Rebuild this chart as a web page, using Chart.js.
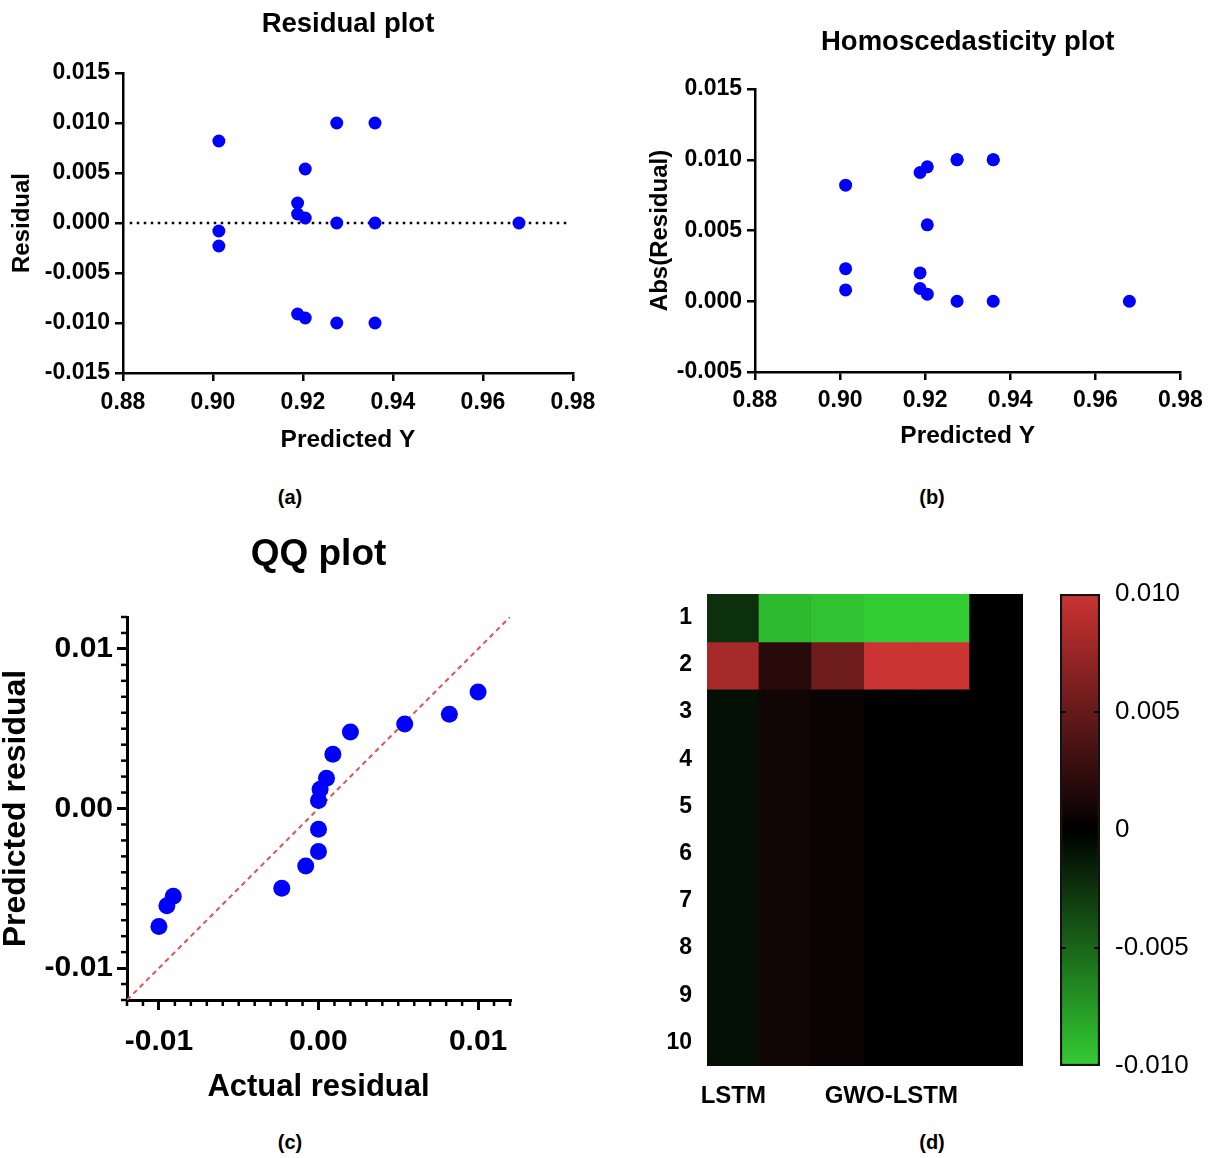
<!DOCTYPE html>
<html><head><meta charset="utf-8">
<script src="https://cdn.jsdelivr.net/npm/chart.js@4.4.1/dist/chart.umd.min.js"></script>
<style>
html,body{margin:0;padding:0;background:#fff;}
body{width:1210px;height:1158px;position:relative;overflow:hidden;font-family:"Liberation Sans",Arial,sans-serif;}
canvas{position:absolute;}
.lbl{position:absolute;font-weight:bold;font-size:20px;color:#000;transform:translate(-50%,-50%);white-space:nowrap;}
</style></head><body>
<canvas id="ca" width="609" height="460" style="left:0px;top:0px"></canvas>
<canvas id="cb" width="590" height="460" style="left:620px;top:0px"></canvas>
<canvas id="cc" width="560" height="600" style="left:0px;top:520px"></canvas>
<canvas id="cd" width="400" height="560" style="left:640px;top:570px"></canvas>
<canvas id="ce" width="170" height="520" style="left:1040px;top:570px"></canvas>
<div class="lbl" style="left:290px;top:497px">(a)</div>
<div class="lbl" style="left:932px;top:497px">(b)</div>
<div class="lbl" style="left:290px;top:1142px">(c)</div>
<div class="lbl" style="left:932px;top:1142px">(d)</div>
<script>
// ---------- data ----------
const predictedY = [0.9013, 0.9013, 0.9013, 0.9188, 0.9188, 0.9188, 0.9205, 0.9205, 0.9205, 0.9275, 0.9275, 0.9275, 0.9360, 0.9360, 0.9360, 0.9680];
const residuals  = [0.0082, -0.0008, -0.0023, 0.0020, 0.0009, -0.0091, 0.0054, 0.0005, -0.0095, 0.0100, 0.0000, -0.0100, 0.0100, 0.0000, -0.0100, 0.0000];
const xTicksAB = [0.88, 0.90, 0.92, 0.94, 0.96, 0.98];
const yTicksA = [-0.015, -0.010, -0.005, 0.000, 0.005, 0.010, 0.015];
const yTicksB = [-0.005, 0.000, 0.005, 0.010, 0.015];
const zeroLineX = [0.8815, 0.9785];

const qqActual    = [-0.0100, -0.0095, -0.0091, -0.0023, -0.0008, 0.0000, 0.0000, 0.0000, 0.0001, 0.0005, 0.0009, 0.0020, 0.0054, 0.0082, 0.0100];
const qqPredicted = [-0.0074, -0.0061, -0.0055, -0.0050, -0.0036, -0.0027, -0.0013, 0.0005, 0.0012, 0.0019, 0.0034, 0.0048, 0.0053, 0.0059, 0.0073];
const qqTicks = [-0.01, 0.00, 0.01];
const qqRange = [-0.012, 0.012];

const heatRowLabels = ['1','2','3','4','5','6','7','8','9','10'];
const heatColLabels = ['LSTM','','','GWO-LSTM','',''];
const heatValues = [
  [-0.0023, -0.0091, -0.0095, -0.0100, -0.0100, 0],
  [ 0.0082,  0.0020,  0.0054,  0.0100,  0.0100, 0],
  [-0.0008,  0.0009,  0.0005,  0, 0, 0],
  [-0.0008,  0.0009,  0.0005,  0, 0, 0],
  [-0.0008,  0.0009,  0.0005,  0, 0, 0],
  [-0.0008,  0.0009,  0.0005,  0, 0, 0],
  [-0.0008,  0.0009,  0.0005,  0, 0, 0],
  [-0.0008,  0.0009,  0.0005,  0, 0, 0],
  [-0.0008,  0.0009,  0.0005,  0, 0, 0],
  [-0.0008,  0.0009,  0.0005,  0, 0, 0]
];
const cbTicks  = [-0.010, -0.005, 0, 0.005, 0.010];
const cbLabels = ['-0.010', '-0.005', '0', '0.005', '0.010'];

// ---------- styling ----------
const FAM = "'Liberation Sans', Arial, Helvetica, sans-serif";
Chart.defaults.color = '#000';
Chart.defaults.font.family = FAM;
Chart.defaults.animation = false;
Chart.defaults.events = [];
Chart.defaults.plugins.legend.display = false;
Chart.defaults.plugins.tooltip.enabled = false;

function colorFor(v) {
  const t = Math.max(-1, Math.min(1, v / 0.01));
  if (t >= 0) return `rgb(${Math.round(204*t)},${Math.round(51*t)},${Math.round(51*t)})`;
  const s = -t;
  return `rgb(${Math.round(51*s)},${Math.round(204*s)},${Math.round(51*s)})`;
}

function axisStyle(tickLen, lw) {
  return {
    border: {display: true, color: '#000', width: lw},
    grid: {display: true, drawOnChartArea: false, drawTicks: true, tickLength: tickLen, color: '#000', lineWidth: lw}
  };
}
// invisible tick marks used only as a spacer between axis and labels
function spacerGrid(len) {
  return {display: true, drawOnChartArea: false, drawTicks: true, tickLength: len, color: 'rgba(0,0,0,0)', lineWidth: 0};
}

function scatterPanel(id, yVals, yTicks, yMin, yMax, yTitle, title, geom, withZero) {
  const pts = predictedY.map((x, i) => ({x, y: yVals[i]}));
  const datasets = [{data: pts, backgroundColor: '#0000ff', borderWidth: 0, pointRadius: 6.5}];
  if (withZero) {
    datasets.push({type: 'line', data: zeroLineX.map(x => ({x, y: 0})), borderColor: '#000', borderWidth: 2.5,
      borderDash: [2.5, 4.5], pointRadius: 0, showLine: true, fill: false});
  }
  new Chart(document.getElementById(id), {
    type: 'scatter',
    data: {datasets},
    options: {
      responsive: false,
      layout: {padding: {left: 0, top: 0, right: geom.padRight, bottom: 0}},
      plugins: {
        title: {display: true, text: title, fullSize: false, color: '#000',
          font: {size: 27.5, weight: 'bold', family: FAM}, padding: {top: geom.titleTop, bottom: geom.titleBottom}}
      },
      scales: {
        x: Object.assign({type: 'linear', min: 0.88, max: 0.98,
          afterBuildTicks: s => { s.ticks = xTicksAB.map(v => ({value: v})); },
          afterFit: s => { s.height = geom.xAxisH; },
          ticks: {font: {size: 23, weight: 'bold'}, padding: geom.xTickPad, callback: v => Number(v).toFixed(2), maxRotation: 0, autoSkip: false},
          title: {display: true, text: 'Predicted Y', font: {size: 24.5, weight: 'bold'}, padding: {top: 0, bottom: geom.xTitlePad}}
        }, axisStyle(8, 2.5)),
        y: Object.assign({type: 'linear', min: yMin, max: yMax,
          afterBuildTicks: s => { s.ticks = yTicks.map(v => ({value: v})); },
          afterFit: s => { s.width = geom.yAxisW; },
          ticks: {font: {size: 23, weight: 'bold'}, padding: 5, callback: v => Number(v).toFixed(3), autoSkip: false},
          title: {display: true, text: yTitle, font: {size: 24, weight: 'bold'}, padding: {top: geom.yTitlePad, bottom: 0}}
        }, axisStyle(8, 2.5))
      }
    }
  });
}

// (a)
scatterPanel('ca', residuals, yTicksA, -0.015, 0.015, 'Residual', 'Residual plot',
  {padRight: 36, titleTop: 7.5, titleBottom: 32.5, xAxisH: 87, yAxisW: 123, xTickPad: 8.2, xTitlePad: 5.3, yTitlePad: 7.6}, true);
// (b)
scatterPanel('cb', residuals.map(v => Math.abs(v)), yTicksB, -0.005, 0.015, 'Abs(Residual)', 'Homoscedasticity plot',
  {padRight: 28, titleTop: 25.5, titleBottom: 30.5, xAxisH: 88, yAxisW: 135, xTickPad: 7.2, xTitlePad: 9.3, yTitlePad: 25.6}, false);

// (c) QQ plot
const minorTicks = {
  id: 'minorTicks',
  afterDraw(chart) {
    const {ctx, chartArea: a, scales: {x, y}} = chart;
    ctx.save();
    ctx.strokeStyle = '#000';
    ctx.lineWidth = 2.5;
    for (let k = -12; k <= 12; k++) {
      if (k % 10 === 0) continue;
      const v = k / 1000;
      const px = x.getPixelForValue(v);
      ctx.beginPath(); ctx.moveTo(px, a.bottom); ctx.lineTo(px, a.bottom + 6); ctx.stroke();
      const py = y.getPixelForValue(v);
      ctx.beginPath(); ctx.moveTo(a.left, py); ctx.lineTo(a.left - 6, py); ctx.stroke();
    }
    ctx.restore();
  }
};
new Chart(document.getElementById('cc'), {
  type: 'scatter',
  data: {datasets: [
    {data: qqActual.map((x, i) => ({x, y: qqPredicted[i]})), backgroundColor: '#0000ff', borderWidth: 0, pointRadius: 8.5},
    {type: 'line', data: qqRange.map(v => ({x: v, y: v})), borderColor: '#e0554f', borderWidth: 2,
      borderDash: [5, 4], pointRadius: 0, showLine: true, fill: false}
  ]},
  options: {
    responsive: false,
    layout: {padding: {left: 0, top: 0, right: 50, bottom: 0}},
    plugins: {
      title: {display: true, text: 'QQ plot', fullSize: false, color: '#000',
        font: {size: 37, weight: 'bold', family: FAM}, padding: {top: 12.8, bottom: 39.8}}
    },
    scales: {
      x: Object.assign({type: 'linear', min: qqRange[0], max: qqRange[1],
        afterBuildTicks: s => { s.ticks = qqTicks.map(v => ({value: v})); },
        afterFit: s => { s.height = 120; },
        ticks: {font: {size: 30, weight: 'bold'}, padding: 14, callback: v => Number(v).toFixed(2), maxRotation: 0, autoSkip: false},
        title: {display: true, text: 'Actual residual', font: {size: 31, weight: 'bold'}, padding: {top: 0, bottom: 14.4}}
      }, axisStyle(10, 3)),
      y: Object.assign({type: 'linear', min: qqRange[0], max: qqRange[1],
        afterBuildTicks: s => { s.ticks = qqTicks.map(v => ({value: v})); },
        afterFit: s => { s.width = 127; },
        ticks: {font: {size: 30, weight: 'bold'}, padding: 4, callback: v => Number(v).toFixed(2), autoSkip: false},
        title: {display: true, text: 'Predicted residual', font: {size: 32, weight: 'bold', lineHeight: 1}, padding: {top: 0, bottom: 0}}
      }, axisStyle(10, 3))
    }
  },
  plugins: [minorTicks]
});

// (d) heatmap
new Chart(document.getElementById('cd'), {
  type: 'bar',
  data: {
    labels: heatColLabels,
    datasets: heatValues.map((row, r) => ({
      label: heatRowLabels[r],
      data: row.map(() => 1),
      backgroundColor: row.map(colorFor),
      borderWidth: 0,
      inflateAmount: 1,
      barPercentage: 1,
      categoryPercentage: 1
    }))
  },
  options: {
    responsive: false,
    layout: {padding: {left: 0, top: 24, right: 17, bottom: 0}},
    scales: {
      x: {type: 'category', stacked: true,
        afterFit: s => { s.height = 64; },
        grid: {display: false, drawTicks: false}, border: {display: false},
        ticks: {font: {size: 24, weight: 'bold'}, padding: 15.6, maxRotation: 0, autoSkip: false}
      },
      y: {type: 'linear', stacked: true, min: 0, max: heatRowLabels.length, reverse: true,
        afterBuildTicks: s => { s.ticks = heatRowLabels.map((_, i) => ({value: i + 0.5})); },
        afterFit: s => { s.width = 67; },
        grid: spacerGrid(15), border: {display: false},
        ticks: {font: {size: 23, weight: 'bold'}, padding: 0, autoSkip: false, callback: (v, i) => heatRowLabels[i]}
      }
    }
  }
});

// (d) colour bar
const cbMarks = {
  id: 'cbMarks',
  afterDatasetsDraw(chart) {
    const {ctx, chartArea: a, scales: {y}} = chart;
    ctx.save();
    ctx.strokeStyle = '#000';
    ctx.lineWidth = 2;
    [cbTicks[1], cbTicks[3]].forEach(v => {
      const py = y.getPixelForValue(v);
      ctx.beginPath(); ctx.moveTo(a.left, py); ctx.lineTo(a.left + 6, py); ctx.stroke();
      ctx.beginPath(); ctx.moveTo(a.right, py); ctx.lineTo(a.right - 6, py); ctx.stroke();
    });
    ctx.restore();
  }
};
new Chart(document.getElementById('ce'), {
  type: 'bar',
  data: {
    labels: ['scale'],
    datasets: [{
      data: [[cbTicks[0], cbTicks[4]]],
      backgroundColor: (c) => {
        const chart = c.chart;
        if (!chart.chartArea) return '#000';
        const y = chart.scales.y;
        const g = chart.ctx.createLinearGradient(0, y.getPixelForValue(cbTicks[0]), 0, y.getPixelForValue(cbTicks[4]));
        g.addColorStop(0, colorFor(cbTicks[0]));
        g.addColorStop(0.5, colorFor(0));
        g.addColorStop(1, colorFor(cbTicks[4]));
        return g;
      },
      borderColor: '#111',
      borderWidth: 2.5,
      borderSkipped: false,
      barPercentage: 1,
      categoryPercentage: 1
    }]
  },
  options: {
    responsive: false,
    layout: {padding: {left: 20, top: 24, right: 0, bottom: 24}},
    scales: {
      x: {display: false},
      y: {type: 'linear', position: 'right', min: cbTicks[0], max: cbTicks[4],
        afterBuildTicks: s => { s.ticks = cbTicks.map(v => ({value: v})); },
        afterFit: s => { s.width = 110; },
        grid: spacerGrid(15), border: {display: false},
        ticks: {font: {size: 26, weight: 'normal'}, padding: 0, autoSkip: false, callback: (v, i) => cbLabels[i]}
      }
    }
  },
  plugins: [cbMarks]
});
</script>
</body></html>
